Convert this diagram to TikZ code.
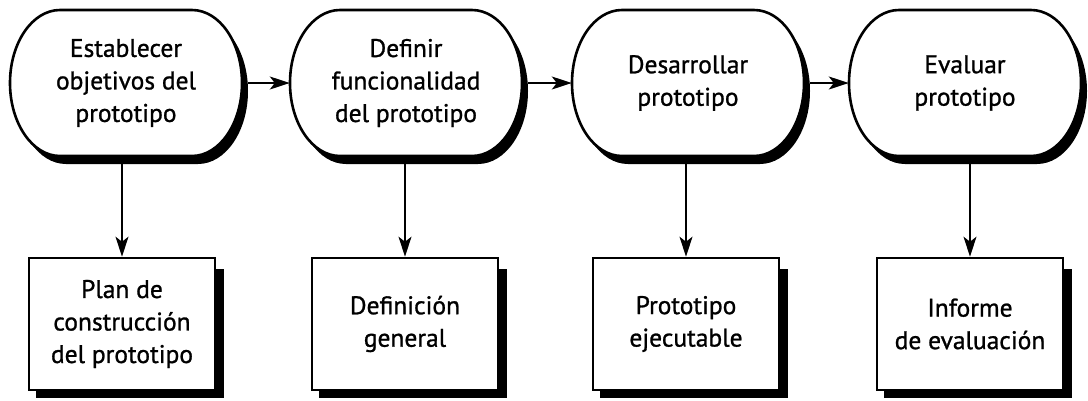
\documentclass[tikz,border=0pt]{standalone}
\usepackage{fontspec}
\setmainfont{PT Sans}
\newfontfamily\medfont[FakeBold=1.0]{PT Sans}
\usetikzlibrary{arrows.meta,backgrounds}
\begin{document}
\begin{tikzpicture}[x=1pt,y=1pt,
  txt/.style={align=center,font=\fontsize{25.5}{32.5}\selectfont\medfont,inner sep=0pt},
  stad/.style={txt,minimum width=232,minimum height=146},
  outbox/.style={txt,draw,line width=2.6pt,fill=white,minimum width=186,minimum height=132},
  flow/.style={line width=1.5pt,-{Stealth[length=20pt,width=13pt,inset=5pt]}},
  shade/.style={fill=black},
]
\useasboundingbox (0,0) rectangle (1088,-400);
% process stadiums (text)
\node[stad] (s1) at (126,-83) {Establecer\\objetivos del\\prototipo};
\node[stad] (s2) at (406,-83) {Definir\\funcionalidad\\del prototipo};
\node[stad] (s3) at (688,-83) {Desarrollar\\prototipo};
\node[stad] (s4) at (965,-83) {Evaluar\\prototipo};
% output boxes
\node[outbox] (b1) at (122,-324) {Plan de\\construcción\\del prototipo};
\node[outbox] (b2) at (405,-324) {Definición\\general};
\node[outbox] (b3) at (686,-324) {Prototipo\\ejecutable};
\node[outbox] (b4) at (970,-324) {Informe\\de evaluación};
% shapes and shadows
\begin{scope}[on background layer]
  \foreach \n in {b1,b2,b3,b4}{
    \fill[shade] ([xshift=8pt,yshift=-12pt]\n.north west) rectangle ([xshift=8pt,yshift=-7pt]\n.south east);
  }
  \foreach \n in {s1,s2,s3,s4}{
    \begin{scope}[shift={(\n.center)}]
      \begin{scope}[shift={(6,-8)}]
        \fill[shade] (-66,73) -- (66,73) arc[start angle=90,end angle=-90,x radius=50,y radius=73]
          -- (-66,-73) arc[start angle=270,end angle=90,x radius=50,y radius=73] -- cycle;
      \end{scope}
      \filldraw[fill=white,line width=2.6pt] (-66,73) -- (66,73) arc[start angle=90,end angle=-90,x radius=50,y radius=73]
          -- (-66,-73) arc[start angle=270,end angle=90,x radius=50,y radius=73] -- cycle;
    \end{scope}
  }
\end{scope}
% connectors
\draw[flow] ([xshift=6pt]s1.east) -- (s2.west);
\draw[flow] ([xshift=6pt]s2.east) -- (s3.west);
\draw[flow] ([xshift=6pt]s3.east) -- (s4.west);
\draw[flow] (s1.south -| b1.north) -- (b1.north);
\draw[flow] (s2.south -| b2.north) -- (b2.north);
\draw[flow] (s3.south -| b3.north) -- (b3.north);
\draw[flow] (s4.south -| b4.north) -- (b4.north);
\end{tikzpicture}
\end{document}
